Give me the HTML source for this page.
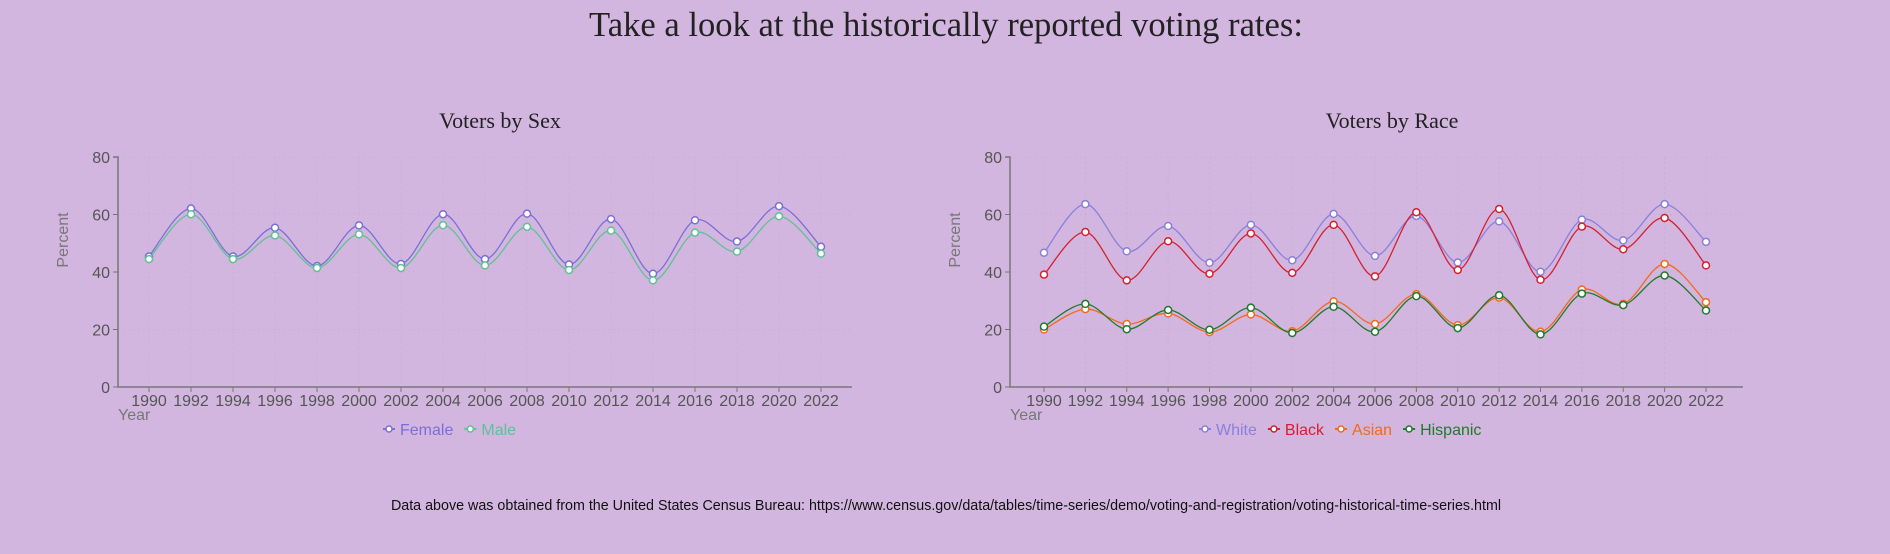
<!DOCTYPE html>
<html><head><meta charset="utf-8"><style>
body{margin:0;width:1890px;height:554px;background:#d2b6df;overflow:hidden;font-family:"Liberation Sans",sans-serif}
svg{position:absolute;left:0;top:0}
</style></head><body>
<svg width="1890" height="554">
<text x="946" y="36" text-anchor="middle" font-family="Liberation Serif,serif" font-size="34.6" fill="#222">Take a look at the historically reported voting rates:</text>
<text x="946" y="510" text-anchor="middle" font-size="14.3" fill="#111">Data above was obtained from the United States Census Bureau: https://www.census.gov/data/tables/time-series/demo/voting-and-registration/voting-historical-time-series.html</text>
<g id="c1"></g>
<g id="c2"></g>
</svg>
<script>
const years=[1990,1992,1994,1996,1998,2000,2002,2004,2006,2008,2010,2012,2014,2016,2018,2020,2022];
const yTicks=[0,20,40,60,80];
const female=[45.4,62.1,45.4,55.4,42.1,56.2,42.8,60.1,44.5,60.3,42.6,58.4,39.4,58.0,50.6,62.9,48.8];
const male=[44.5,60.1,44.5,52.7,41.4,53.1,41.4,56.3,42.3,55.7,40.7,54.4,37.1,53.7,47.1,59.4,46.4];
const white=[46.7,63.6,47.2,56.0,43.2,56.4,44.1,60.2,45.6,59.5,43.3,57.6,40.1,58.2,51.0,63.6,50.5];
const black=[39.1,53.9,37.1,50.7,39.4,53.4,39.7,56.4,38.5,60.8,40.7,61.9,37.3,55.8,47.9,58.8,42.3];
const asian=[20.0,27.1,21.9,25.6,19.1,25.2,19.4,29.8,21.9,32.3,21.5,31.1,19.2,33.9,28.9,42.8,29.5];
const hispanic=[21.0,28.9,20.1,26.8,19.9,27.6,18.8,27.9,19.2,31.6,20.5,31.9,18.3,32.5,28.5,38.8,26.6];
const NS='http://www.w3.org/2000/svg';
function mk(p,t,a){const e=document.createElementNS(NS,t);for(const k in a)e.setAttribute(k,a[k]);p.appendChild(e);return e;}
function path(pts){let d='M'+pts[0][0]+','+pts[0][1];for(let i=0;i<pts.length-1;i++){const p0=pts[i-1]||pts[i],p1=pts[i],p2=pts[i+1],p3=pts[i+2]||p2;
d+=' C'+(p1[0]+(p2[0]-p0[0])/6)+','+(p1[1]+(p2[1]-p0[1])/6)+' '+(p2[0]-(p3[0]-p1[0])/6)+','+(p2[1]-(p3[1]-p1[1])/6)+' '+p2[0]+','+p2[1];}return d;}
function chart(g,o){
 const TOP=157,BOT=387;
 const x=i=>o.x0+i*(o.x1-o.x0)/(years.length-1);
 const y=v=>BOT-v*(BOT-TOP)/80;
 const t=mk(g,'text',{x:o.tc,y:128,'text-anchor':'middle','font-family':'Liberation Serif,serif','font-size':22,fill:'#222'});t.textContent=o.title;
 
 
 yTicks.forEach(v=>{mk(g,'line',{x1:o.ax,x2:o.end,y1:y(v),y2:y(v),stroke:'#c9b0d4','stroke-dasharray':'2,3'});
  mk(g,'line',{x1:o.ax-5,x2:o.ax,y1:y(v),y2:y(v),stroke:'#777'});
  const l=mk(g,'text',{x:o.ax-8,y:y(v)+6,'text-anchor':'end','font-size':16,fill:'#555'});l.textContent=v;
  
  });
 years.forEach((yr,i)=>{mk(g,'line',{x1:x(i),x2:x(i),y1:TOP,y2:BOT,stroke:'#c9b0d4','stroke-dasharray':'2,3'});
  mk(g,'line',{x1:x(i),x2:x(i),y1:BOT,y2:BOT+5,stroke:'#777'});
  const l=mk(g,'text',{x:x(i),y:406,'text-anchor':'middle','font-size':16,fill:'#555'});l.textContent=yr;
  
  });
 mk(g,'path',{d:`M${o.ax-5},${TOP}H${o.ax}V${BOT}H${o.end}`,fill:'none',stroke:'#777','stroke-width':1.5});
 const yl=mk(g,'text',{x:o.ax,y:420,'font-size':16,fill:'#777'});yl.textContent='Year';
 
 
 const pl=mk(g,'text',{transform:`translate(${o.ax-50},240) rotate(-90)`,'text-anchor':'middle','font-size':16,fill:'#777'});pl.textContent='Percent';
 
 
 o.series.forEach(s=>{const pts=s.v.map((v,i)=>[x(i),y(v)]);
  const p=mk(g,'path',{d:path(pts),fill:'none',stroke:s.c,'stroke-width':1.3});
  
  
  pts.forEach(q=>{const c=mk(g,'circle',{cx:q[0],cy:q[1],r:3.5,fill:'#fff',stroke:s.c,'stroke-width':1.5});
   
   });});
 let lx=o.lx;
 o.series.forEach(s=>{const lg=mk(g,'g',{});
  
  
  mk(lg,'line',{x1:lx,x2:lx+12,y1:429,y2:429,stroke:s.c,'stroke-width':2});
  mk(lg,'circle',{cx:lx+6,cy:429,r:3,fill:'#fff',stroke:s.c,'stroke-width':1.5});
  const tx=mk(lg,'text',{x:lx+17,y:435,'font-size':16,fill:s.c});tx.textContent=s.n;
  lx+=17+tx.getComputedTextLength()+11;});
}
chart(document.getElementById('c1'),{x0:149,x1:821,ax:118,end:852,tc:500,title:'Voters by Sex',lx:383,
 series:[{n:'Female',v:female,c:'#7b6fd6'},{n:'Male',v:male,c:'#5fc196'}]});
chart(document.getElementById('c2'),{x0:1044,x1:1706,ax:1010,end:1743,tc:1392,title:'Voters by Race',lx:1199,
 series:[{n:'White',v:white,c:'#8a7fdc'},{n:'Black',v:black,c:'#d4202f'},{n:'Asian',v:asian,c:'#f26a1b'},{n:'Hispanic',v:hispanic,c:'#1f7a2e'}]});
</script>
</body></html>
